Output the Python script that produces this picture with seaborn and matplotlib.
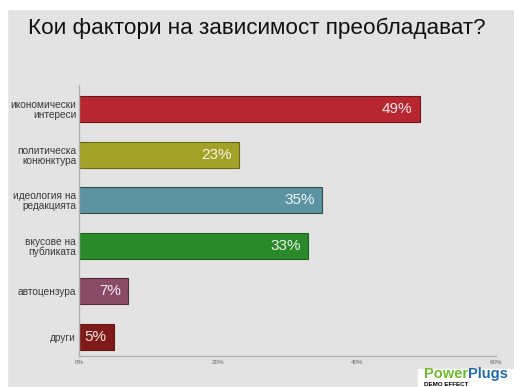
import pandas as pd
from matplotlib import pyplot as plt
from matplotlib.patches import Rectangle
from matplotlib.text import Annotation
import seaborn as sns

factors = ['икономически\nинтереси', 'политическа\nконюнктура', 'идеология на\nредакцията',
           'вкусове на\nпубликата', 'автоцензура', 'други']
shares = [49, 23, 35, 33, 7, 5]
bar_colors = ['#b8262f', '#a3a126', '#5b94a0', '#2a8a2a', '#8b4a66', '#7e1a1a']
x_ticks = [0, 20, 40, 60]

df = pd.DataFrame({'factor': factors, 'share': shares})

sns.set_style('white')
plt.rcParams['font.family'] = ['Liberation Sans', 'DejaVu Sans']

bg = '#e3e3e3'
fig = plt.figure(figsize=(5.14, 3.87), dpi=100)
fig.patch.set_facecolor(bg)
# white strips at the left and top edge
fig.add_artist(Rectangle((0, 0), 7 / 514, 1, transform=fig.transFigure, color='white', zorder=0))
fig.add_artist(Rectangle((0, 1 - 9 / 387), 1, 9 / 387, transform=fig.transFigure, color='white', zorder=0))

ax = fig.add_axes([79 / 514, 1 - 356 / 387, 417 / 514, 271 / 387])
ax.set_facecolor(bg)
sns.barplot(data=df, x='share', y='factor', hue='factor', palette=bar_colors,
            width=0.57, legend=False, ax=ax, saturation=1)
for p, c in zip(ax.patches, bar_colors):
    p.set_edgecolor(sns.set_hls_values(c, l=0.25))
    p.set_linewidth(0.8)

for i, v in enumerate(shares):
    ax.text(v - 1.0, i, f'{v}%', ha='right', va='center', color='white',
            fontsize=11, alpha=0.9)

ax.set_xlim(0, 60)
ax.set_ylim(5.42, -0.53)
ax.set_xticks(x_ticks)
ax.set_xticklabels([f'{t}%' for t in x_ticks], fontsize=4.5, color='#666666')
ax.tick_params(axis='y', labelsize=7.3, labelcolor='#3a3a3a', length=0, pad=2)
ax.tick_params(axis='x', length=0, pad=3)
for lbl in ax.get_yticklabels():
    lbl.set_linespacing(1.0)
ax.set_xlabel('')
ax.set_ylabel('')
for s in ['top', 'right']:
    ax.spines[s].set_visible(False)
for s in ['left', 'bottom']:
    ax.spines[s].set_color('#b0b0b0')
    ax.spines[s].set_linewidth(1)

fig.text(0.5, 1 - 28 / 387, 'Кои фактори на зависимост преобладават?', ha='center', va='center',
         fontsize=16.2, color='#111111')

# logo box
fig.add_artist(Rectangle((418 / 514, 0), 96 / 514, 18 / 387, transform=fig.transFigure,
                         color='white', zorder=2))
power = fig.text(424 / 514, 6 / 387, 'Power', fontsize=10.5, color='#6dbb2a', weight='bold',
                 ha='left', va='bottom', zorder=3)
fig.add_artist(Annotation('Plugs', xy=(1, 0), xycoords=power, fontsize=10.5, color='#1d6ab0',
                          weight='bold', ha='left', va='bottom', zorder=3))
fig.text(424 / 514, 0.5 / 387, 'DEMO EFFECT', fontsize=4.5, color='black', weight='bold',
         ha='left', va='bottom', zorder=3)

fig.savefig('out.png', dpi=100, facecolor=fig.get_facecolor())
